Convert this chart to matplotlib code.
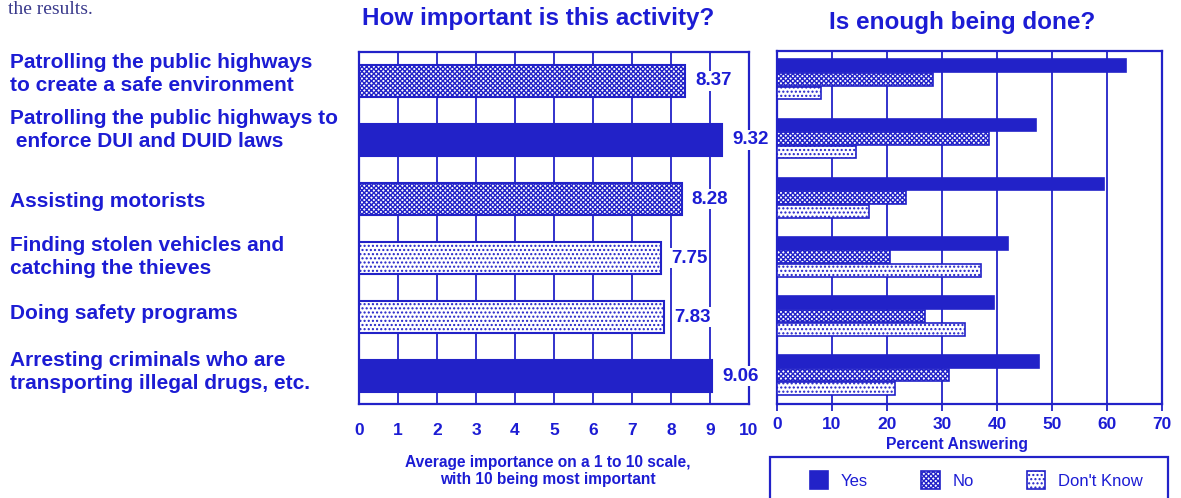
import matplotlib.pyplot as plt
from matplotlib.patches import Rectangle
import numpy as np

plt.rcParams["font.family"] = ["Liberation Sans", "DejaVu Sans"]
plt.rcParams["hatch.color"] = "#2222c8"
plt.rcParams["hatch.linewidth"] = 1.0

BLUE = "#2222c8"
TEXT_BLUE = "#1c1cd4"

activities = [
    "Patrolling the public highways\nto create a safe environment",
    "Patrolling the public highways to\n enforce DUI and DUID laws",
    "Assisting motorists",
    "Finding stolen vehicles and\ncatching the thieves",
    "Doing safety programs",
    "Arresting criminals who are\ntransporting illegal drugs, etc.",
]
importance = [8.37, 9.32, 8.28, 7.75, 7.83, 9.06]
importance_style = ["No", "Yes", "No", "Don't Know", "Don't Know", "Yes"]

yes_pct = [63.5, 47.1, 59.5, 42.0, 39.5, 47.6]
no_pct = [28.4, 38.5, 23.5, 20.5, 26.9, 31.3]
dontknow_pct = [8.0, 14.4, 16.7, 37.1, 34.2, 21.5]

left_ticks = list(range(0, 11))
right_ticks = list(range(0, 71, 10))

# fill / hatch per answer type
styles = {
    "Yes": dict(color=BLUE, hatch=None),
    "No": dict(color="white", hatch="xxxxxxx"),
    "Don't Know": dict(color="white", hatch="...."),
}

fig = plt.figure(figsize=(11.81, 4.98), dpi=100)
W, H = 1181, 498


def box(x0, x1, ytop, ybot):
    return [x0 / W, 1 - ybot / H, (x1 - x0) / W, (ybot - ytop) / H]


ax1 = fig.add_axes(box(359, 749, 52, 404))
ax2 = fig.add_axes(box(777, 1162, 51, 404))

y = np.arange(len(activities))

# left panel: average importance
for yi, val, kind in zip(y, importance, importance_style):
    st = styles[kind]
    ax1.barh(yi, val, height=0.54, color=st["color"], hatch=st["hatch"],
             edgecolor=BLUE, linewidth=1.5, zorder=3)
    ax1.text(val + 0.25, yi, f"{val:.2f}", ha="left", va="center",
             fontsize=13.5, fontweight="bold", color=TEXT_BLUE, zorder=5,
             bbox=dict(facecolor="white", edgecolor="none", pad=1.0))

ax1.set_xlim(0, 10)
ax1.set_ylim(len(activities) - 0.53, -0.49)
ax1.set_xticks(left_ticks)
ax1.set_yticks([])
ax1.grid(axis="x", color=BLUE, linewidth=1.3, zorder=1)
ax1.tick_params(axis="x", length=0, pad=14, labelsize=12.5, labelcolor=TEXT_BLUE)
for lab in ax1.get_xticklabels():
    lab.set_fontweight("bold")
for sp in ax1.spines.values():
    sp.set_color(BLUE)
    sp.set_linewidth(1.6)

# right panel: is enough being done
h = 0.215
off = 0.23
yes_bars = ax2.barh(y - off, yes_pct, height=h, color=BLUE, edgecolor=BLUE,
                    linewidth=1.2, zorder=3, label="Yes")
no_bars = ax2.barh(y, no_pct, height=h, color="white", hatch=styles["No"]["hatch"],
                   edgecolor=BLUE, linewidth=1.2, zorder=3, label="No")
dk_bars = ax2.barh(y + off, dontknow_pct, height=h, color="white",
                   hatch=styles["Don't Know"]["hatch"], edgecolor=BLUE,
                   linewidth=1.2, zorder=3, label="Don't Know")

ax2.set_xlim(0, 70)
ax2.set_ylim(len(activities) - 0.51, -0.48)
ax2.set_xticks(right_ticks)
ax2.set_yticks([])
ax2.grid(axis="x", color=BLUE, linewidth=1.3, zorder=1)
ax2.tick_params(axis="x", length=5, width=1.3, color=BLUE, pad=4,
                labelsize=12.5, labelcolor=TEXT_BLUE)
for lab in ax2.get_xticklabels():
    lab.set_fontweight("bold")
for sp in ax2.spines.values():
    sp.set_color(BLUE)
    sp.set_linewidth(1.6)

# category labels on the left (pixel rows from the top, slightly above bar centres)
label_rows = [74, 130, 201, 257, 313, 372]
for row, name in zip(label_rows, activities):
    fig.text(10 / W, 1 - row / H, name, ha="left", va="center", fontsize=15,
             fontweight="bold", color=TEXT_BLUE, linespacing=1.3)

# titles and axis captions
fig.text(538 / W, 1 - 18 / H, "How important is this activity?", ha="center",
         va="center", fontsize=17.5, fontweight="bold", color=TEXT_BLUE)
fig.text(962 / W, 1 - 22 / H, "Is enough being done?", ha="center",
         va="center", fontsize=17.5, fontweight="bold", color=TEXT_BLUE)
fig.text(957 / W, 1 - 444 / H, "Percent Answering", ha="center", va="center",
         fontsize=11.3, fontweight="bold", color=TEXT_BLUE)
fig.text(548 / W, 1 - 471 / H,
         "Average importance on a 1 to 10 scale,\nwith 10 being most important",
         ha="center", va="center", fontsize=11.2, fontweight="bold",
         color=TEXT_BLUE, linespacing=1.15)
fig.text(8 / W, 1 - 14 / H, "the results.", ha="left", va="baseline",
         fontsize=14, family="Liberation Serif", color="#3a3a8c")

# legend with a box running off the bottom edge
fig.legend(handles=[yes_bars, no_bars, dk_bars], loc="center left",
           bbox_to_anchor=(795 / W, 1 - 480 / H), ncol=3, frameon=False,
           fontsize=12, handlelength=1.1, handleheight=1.25,
           handletextpad=0.75, columnspacing=3.2, labelcolor=TEXT_BLUE)
fig.add_artist(Rectangle((770 / W, -0.05), (1168 - 770) / W, 0.05 + 1 - 457 / H,
                         transform=fig.transFigure, fill=False,
                         edgecolor=BLUE, linewidth=1.6))

fig.savefig("out.png", dpi=100)
